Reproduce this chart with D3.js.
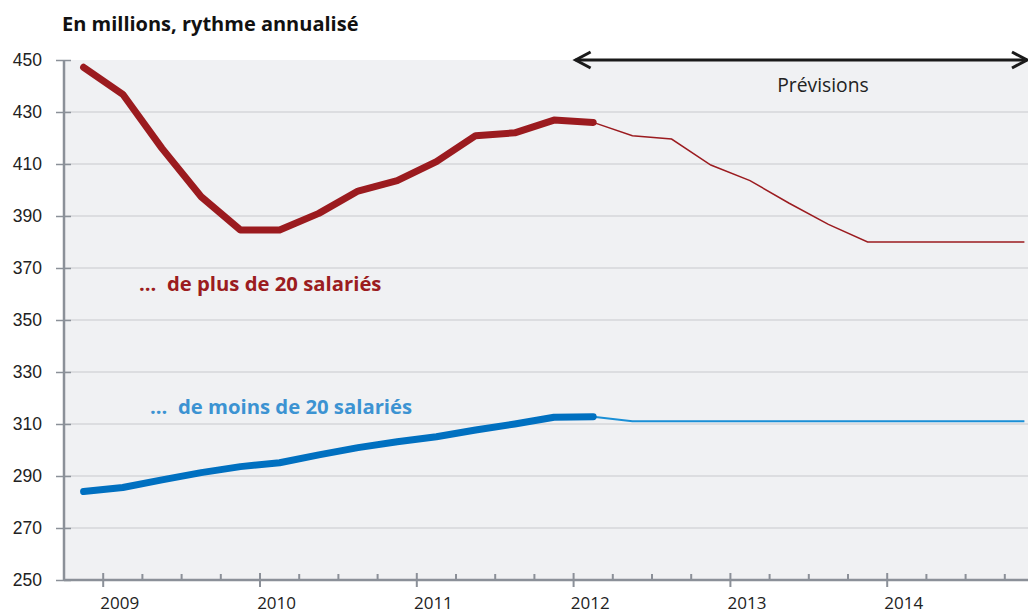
<!DOCTYPE html>
<html>
<head>
<meta charset="utf-8">
<script src="https://cdn.jsdelivr.net/npm/d3@7"></script>
<style>
  body { margin: 0; background: #fff; }
  svg { display: block; font-family: "Open Sans", "Noto Sans", sans-serif; }
</style>
</head>
<body>
<script>
// quarters, from 2008 T4 to 2014 T4
var quarters = ['2008T4',
  '2009T1','2009T2','2009T3','2009T4',
  '2010T1','2010T2','2010T3','2010T4',
  '2011T1','2011T2','2011T3','2011T4',
  '2012T1','2012T2','2012T3','2012T4',
  '2013T1','2013T2','2013T3','2013T4',
  '2014T1','2014T2','2014T3','2014T4'];
var years = ['2009','2010','2011','2012','2013','2014'];
var yTicks = [250,270,290,310,330,350,370,390,410,430,450];

// en millions, rythme annualisé
var plus20 = [447.2,436.8,416,397.4,384.6,384.6,391,399.6,403.6,410.9,420.9,422,426.9,426,
  420.9,419.6,409.6,403.6,394.9,386.8,380,380,380,380,380];
var moins20 = [284,285.6,288.5,291.3,293.6,295.1,298.1,300.9,303.2,305.1,307.7,310,312.6,312.8,
  311.1,311.1,311.1,311.1,311.1,311.1,311.1,311.1,311.1,311.1,311.1];
var lastObserved = 13; // 2012T1, after that : prévisions

var width = 1028, height = 614;
var margin = {top: 60, left: 64, bottom: 34};
var band = 39.2;

var svg = d3.select("body").append("svg")
  .attr("width", width)
  .attr("height", height);

var x = d3.scaleLinear().domain([0, quarters.length]).range([margin.left, margin.left + band * quarters.length]);
var y = d3.scaleLinear().domain([250, 450]).range([height - margin.bottom, margin.top]);

// fond
svg.append("rect")
  .attr("x", x(0)).attr("y", y(450))
  .attr("width", width - x(0)).attr("height", y(250) - y(450))
  .attr("fill", "#f0f1f3");

// grille
svg.append("g").selectAll("line")
  .data(yTicks.filter(function(d){ return d > 250 && d < 450; }))
  .enter().append("line")
  .attr("x1", x(0)).attr("x2", width)
  .attr("y1", function(d){ return y(d); }).attr("y2", function(d){ return y(d); })
  .attr("stroke", "#dcdde0").attr("stroke-width", 2);

var axisColor = "#8b9098";

// axe Y
var yAxis = svg.append("g")
  .attr("transform", "translate(" + x(0) + ",0)")
  .call(d3.axisLeft(y).tickValues(yTicks).tickSize(8).tickPadding(14));
yAxis.select(".domain").attr("stroke", axisColor).attr("stroke-width", 2.5)
  .attr("d", "M0," + y(450) + "V" + y(250));
yAxis.selectAll(".tick line").attr("stroke", axisColor).attr("stroke-width", 1.5).attr("x2", 7).attr("x1", -8);
yAxis.selectAll(".tick text").attr("font-size", 17.5).attr("fill", "#222").attr("x", -22);

// axe X : graduations trimestrielles
var xAxis = svg.append("g")
  .attr("transform", "translate(0," + y(250) + ")");
xAxis.append("line")
  .attr("x1", x(0)).attr("x2", width)
  .attr("stroke", axisColor).attr("stroke-width", 2.5);
xAxis.selectAll(".q").data(d3.range(1, quarters.length))
  .enter().append("line")
  .attr("class", "q")
  .attr("x1", function(d){ return x(d); }).attr("x2", function(d){ return x(d); })
  .attr("y1", function(d){ return (d - 1) % 4 === 0 ? -7 : -6; })
  .attr("y2", function(d){ return (d - 1) % 4 === 0 ? 7 : 0; })
  .attr("stroke", axisColor).attr("stroke-width", 2);
xAxis.selectAll(".yr").data(years)
  .enter().append("text")
  .attr("x", function(d, i){ return x(1 + i * 4 + 0.5) - 3; })
  .attr("y", 29)
  .attr("text-anchor", "middle")
  .attr("font-size", 17).attr("fill", "#222")
  .text(function(d){ return d; });

// courbes
var line = d3.line()
  .x(function(d){ return x(d.i + 0.5); })
  .y(function(d){ return y(d.v); });

function drawSeries(values, color, thinColor, thinWidth) {
  var pts = values.map(function(v, i){ return {i: i, v: v}; });
  svg.append("path")
    .datum(pts.slice(lastObserved))
    .attr("d", line)
    .attr("fill", "none")
    .attr("stroke", thinColor).attr("stroke-width", thinWidth);
  svg.append("path")
    .datum(pts.slice(0, lastObserved + 1))
    .attr("d", line)
    .attr("fill", "none")
    .attr("stroke", color).attr("stroke-width", 7)
    .attr("stroke-linecap", "round").attr("stroke-linejoin", "round");
}
drawSeries(plus20, "#9b1b1f", "#9b1b1f", 1.5);
drawSeries(moins20, "#0070c0", "#1a8fd6", 2);

// libellés
svg.append("text")
  .attr("x", 62).attr("y", 31)
  .attr("font-size", 20).attr("font-weight", "bold").attr("fill", "#111")
  .text("En millions, rythme annualisé");
svg.append("text")
  .attr("x", 139).attr("y", 291)
  .attr("font-size", 20.3).attr("font-weight", "bold").attr("fill", "#9b1c20")
  .attr("xml:space", "preserve")
  .text("...  de plus de 20 salariés");
svg.append("text")
  .attr("x", 150).attr("y", 414)
  .attr("font-size", 20.3).attr("font-weight", "bold").attr("fill", "#3c93d2")
  .attr("xml:space", "preserve")
  .text("...  de moins de 20 salariés");

// flèche des prévisions
var arrowY = y(450), ax0 = x(lastObserved) + 2, ax1 = width - 1;
var arrow = svg.append("g").attr("stroke", "#1a1a1a").attr("stroke-width", 3).attr("fill", "none");
arrow.append("line").attr("x1", ax0).attr("x2", ax1).attr("y1", arrowY).attr("y2", arrowY);
arrow.append("path").attr("d", "M" + (ax0 + 15) + "," + (arrowY - 8) + "L" + ax0 + "," + arrowY + "L" + (ax0 + 15) + "," + (arrowY + 8));
arrow.append("path").attr("d", "M" + (ax1 - 15) + "," + (arrowY - 8) + "L" + ax1 + "," + arrowY + "L" + (ax1 - 15) + "," + (arrowY + 8));
svg.append("text")
  .attr("x", 823).attr("y", 92)
  .attr("text-anchor", "middle")
  .attr("font-size", 19.3).attr("fill", "#222")
  .text("Prévisions");
</script>
</body>
</html>
